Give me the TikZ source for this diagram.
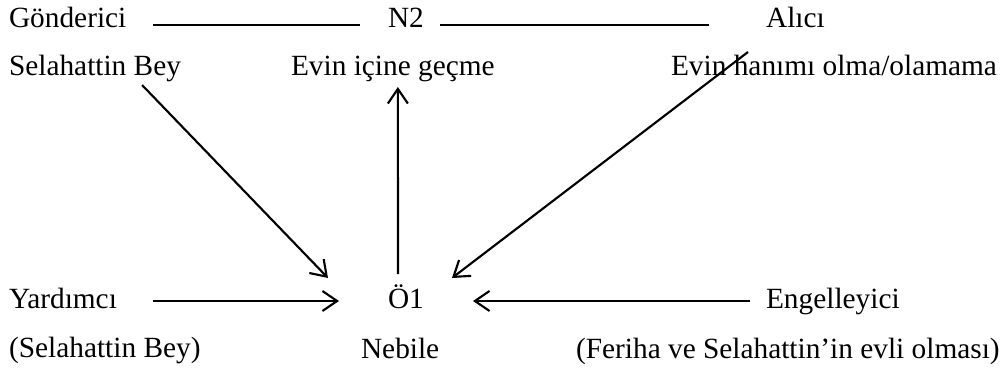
\documentclass[tikz,border=0pt]{standalone}
\usepackage{fontspec}
\setmainfont{Liberation Serif}
\usepackage{tikz}
\usetikzlibrary{arrows.meta, calc}

\begin{document}
\begin{tikzpicture}[x=0.75pt, y=-0.75pt, line width=1.6pt,
        >={Straight Barb[length=11pt, width=15pt]},
        lbl/.style={inner sep=0pt, anchor=base west, font=\fontsize{22}{26}\selectfont}]
        \useasboundingbox (0, 0) rectangle (1001, 371);

        % Top row
        \node[lbl] (gonderen) at (8, 27) {Gönderici};
        \node[lbl] (n2) at (387, 27) {N2};
        \node[lbl] (alici) at (765, 27) {Alıcı};
        \node[lbl] (sb) at (8, 75) {Selahattin Bey};
        \node[lbl] (nesne) at (290, 75) {Evin içine geçme};
        \node[lbl] (hanim) at (670, 75) {Evin hanımı olma/olamama};

        % Bottom row
        \node[lbl] (yardimci) at (8, 308) {Yardımcı};
        \node[lbl] (o1) at (387, 308) {Ö1};
        \node[lbl] (engel) at (765, 308) {Engelleyici};
        \node[lbl] (ysb) at (8, 357) {(Selahattin Bey)};
        \node[lbl] (nebile) at (360, 358) {Nebile};
        \node[lbl] (feriha) at (575, 358) {(Feriha ve Selahattin’in evli olması)};

        % Lines between the top labels
        \draw ($(gonderen.base east)+(26, -2)$) -- ($(n2.base west)+(-27, -2)$);
        \draw ($(n2.base east)+(15, -2)$) -- ($(alici.base west)+(-56, -2)$);

        % Arrows into the subject
        \draw[->] ($(sb.base east)+(-40, 10)$) -- ($(o1.base west)+(-59, -30)$);
        \draw[->] ($(alici.base west)+(-17, 25)$) -- ($(o1.base east)+(27, -30)$);
        \draw[->] ($(yardimci.base east)+(35, -7)$) -- ($(o1.base west)+(-48, -7)$);
        \draw[->] ($(engel.base west)+(-15, -7)$) -- ($(o1.base east)+(48, -7)$);

        % Subject to object
        \draw[->] ($(o1.base)+(-8, -34)$) -- ($(nesne.base)+(5, 12)$);
\end{tikzpicture}
\end{document}
